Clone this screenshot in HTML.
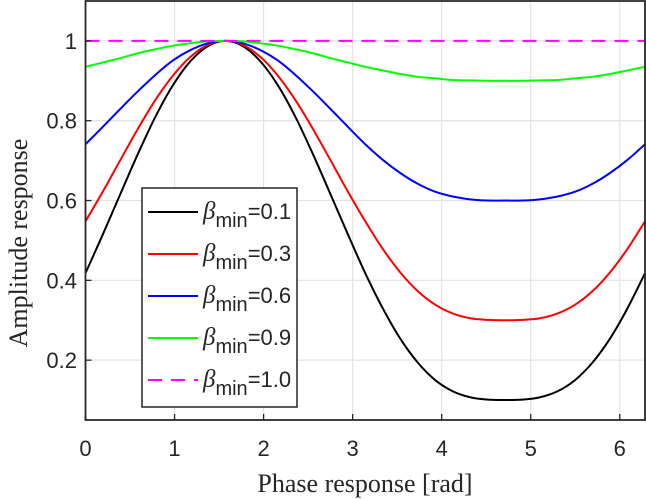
<!DOCTYPE html>
<html><head><meta charset="utf-8"><style>
body{margin:0;background:#fff}
svg{display:block}
.tk{font-family:"Liberation Sans",sans-serif;font-size:22px;fill:#262626}
.ti{font-family:"Liberation Serif",serif;font-size:26px;fill:#262626}
</style></head><body>
<svg id="chart" width="646" height="499" viewBox="0 0 646 499" xmlns="http://www.w3.org/2000/svg">
<g id="grid"></g>
<g id="series"></g>
<g id="axes"></g>
<text class="ti" x="365" y="492" text-anchor="middle">Phase response [rad]</text>
<text class="ti" transform="translate(27,243) rotate(-90)" text-anchor="middle">Amplitude response</text>
<g id="legend"></g>
</svg>
<script>
const xTicks=[0,1,2,3,4,5,6];
const yTicks=[0.2,0.4,0.6,0.8,1];
const yTickLabels=["0.2","0.4","0.6","0.8","1"];
const s01=[.418,.516,.617,.717,.810,.889,.949,.987,1,.987,.949,.889,.810,.717,.617,.516,.418,.330,.254,.194,.150,.122,.107,.101,.1,.101,.107,.122,.150,.194,.254,.330,.418];
const s03=[.548,.623,.702,.780,.852,.913,.960,.990,1,.990,.960,.913,.852,.780,.702,.623,.548,.479,.420,.373,.339,.317,.305,.301,.3,.301,.305,.317,.339,.373,.420,.479,.548];
const s06=[.741,.785,.830,.874,.915,.951,.977,.994,1,.994,.977,.951,.915,.874,.830,.785,.741,.702,.669,.642,.622,.610,.603,.600,.6,.600,.603,.610,.622,.642,.669,.702,.741];
const s09=[.935,.946,.957,.969,.979,.988,.994,.999,1,.999,.994,.988,.979,.969,.957,.946,.935,.926,.917,.910,.906,.902,.901,.900,.9,.900,.901,.902,.906,.910,.917,.926,.935];
const s10=[1,1];
const seriesLabels=["0.1","0.3","0.6","0.9","1.0"];

const L=85.5,R=645,T=1,B=420, XMAX=2*Math.PI, YMIN=0.05, YMAX=1.1;
const sx=v=>L+(v/XMAX)*(R-L);
const sy=v=>B-(v-YMIN)/(YMAX-YMIN)*(B-T);
const NS="http://www.w3.org/2000/svg";
function mk(tag,attrs,parent){const e=document.createElementNS(NS,tag);for(const k in attrs)e.setAttribute(k,attrs[k]);parent.appendChild(e);return e;}
const grid=document.getElementById('grid'),axes=document.getElementById('axes'),ser=document.getElementById('series'),leg=document.getElementById('legend');
xTicks.forEach(t=>{
  const g=mk('line',{x1:sx(t),x2:sx(t),y1:T,y2:B,stroke:'#e3e3e3','stroke-width':1.2},grid);
  
  
  const tk=mk('line',{x1:sx(t),x2:sx(t),y1:B,y2:B-6,stroke:'#262626','stroke-width':1.3},axes);
  
  
  const tx=mk('text',{x:sx(t),y:456,'text-anchor':'middle',class:'tk'},axes);
  tx.textContent=String(t);
  
  
});
yTicks.forEach((t,i)=>{
  const g=mk('line',{x1:L,x2:R,y1:sy(t),y2:sy(t),stroke:'#e3e3e3','stroke-width':1.2},grid);
  
  
  const tk=mk('line',{x1:L,x2:L+6,y1:sy(t),y2:sy(t),stroke:'#262626','stroke-width':1.3},axes);
  
  
  const tx=mk('text',{x:77,y:sy(t)+8,'text-anchor':'end',class:'tk'},axes);
  tx.textContent=yTickLabels[i];
  
  
});
const box=mk('path',{d:`M${L},${T} V${B} H${R} V${T} Z`,fill:'none',stroke:'#262626','stroke-width':1.8},axes);



function pathFor(arr){
  const pts=arr.map((v,i)=>[sx(i*XMAX/(arr.length-1)),sy(v)]);
  if(pts.length<3)return 'M'+pts.map(p=>p.join(',')).join(' L');
  let d=`M${pts[0][0]},${pts[0][1]}`;
  for(let i=0;i<pts.length-1;i++){
    const p0=pts[Math.max(0,i-1)],p1=pts[i],p2=pts[i+1],p3=pts[Math.min(pts.length-1,i+2)];
    const c1=[p1[0]+(p2[0]-p0[0])/6,p1[1]+(p2[1]-p0[1])/6];
    const c2=[p2[0]-(p3[0]-p1[0])/6,p2[1]-(p3[1]-p1[1])/6];
    d+=` C${c1[0]},${c1[1]} ${c2[0]},${c2[1]} ${p2[0]},${p2[1]}`;
  }
  return d;
}
const allSeries=[s01,s03,s06,s09,s10];
const colors=['#000000','#ff0000','#0000ff','#00ff00','#ff00ff'];
const dashes=['','','','','14,9'];
const names=['series-beta-0.1','series-beta-0.3','series-beta-0.6','series-beta-0.9','series-beta-1.0'];
allSeries.forEach((arr,i)=>{
  const p=mk('path',{d:pathFor(arr),fill:'none',stroke:colors[i],'stroke-width':2},ser);
  if(dashes[i])p.setAttribute('stroke-dasharray',dashes[i]);
  
  
});
const lb=mk('rect',{x:142,y:188,width:155,height:219,fill:'#fff',stroke:'#262626','stroke-width':1.5},leg);


seriesLabels.forEach((lab,i)=>{
  const y=212+i*42;
  const g=mk('g',{},leg);
  
  
  const ln=mk('line',{x1:148,x2:198,y1:y,y2:y,stroke:colors[i],'stroke-width':2},g);
  if(dashes[i])ln.setAttribute('stroke-dasharray','14,9');
  const t=mk('text',{x:203,y:y+7,class:'tk'},g);
  t.innerHTML=`<tspan font-family="Liberation Serif" font-style="italic" font-size="25">β</tspan><tspan dy="8" font-size="20">min</tspan><tspan dy="-8">=${lab}</tspan>`;
});
</script>
</body></html>
